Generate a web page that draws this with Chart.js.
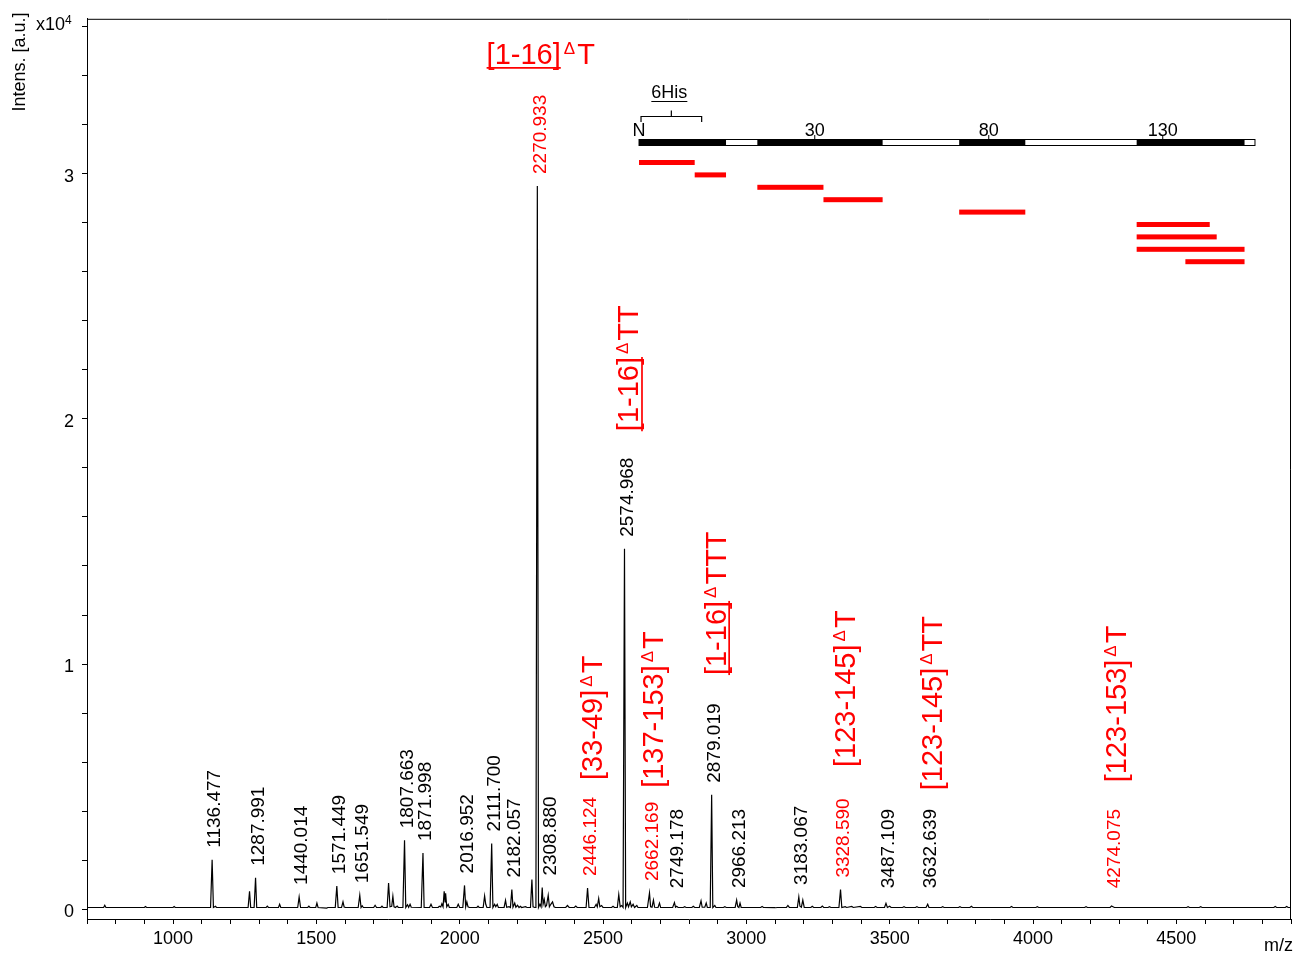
<!DOCTYPE html>
<html>
<head>
<meta charset="utf-8">
<script src="https://cdn.jsdelivr.net/npm/chart.js@4.4.0/dist/chart.umd.min.js"></script>
<style>
  html, body { margin: 0; padding: 0; background: #fff; }
</style>
</head>
<body>
<canvas id="chart" width="1295" height="960"></canvas>
<script>
// MALDI spectrum, [m/z, intensity x10^4]
const spectrum = [
  [700, 0.007], [758, 0.007], [762, 0.016], [766, 0.007],
  [900, 0.007], [904, 0.011], [908, 0.007],
  [1000, 0.007], [1004, 0.011], [1008, 0.007],
  [1131, 0.007], [1136.477, 0.202], [1141, 0.007], [1148, 0.012], [1152, 0.007],
  [1262, 0.007], [1267, 0.073], [1271, 0.007],
  [1283, 0.007], [1287.991, 0.128], [1292, 0.007],
  [1325, 0.007], [1329, 0.012], [1333, 0.007],
  [1368, 0.007], [1372, 0.02], [1376, 0.007],
  [1435, 0.007], [1440.014, 0.05], [1445, 0.007],
  [1470, 0.007], [1474, 0.012], [1478, 0.007],
  [1498, 0.007], [1502, 0.025], [1506, 0.007],
  [1536, 0.004], [1540, 0.007],
  [1566, 0.007], [1571.449, 0.094], [1576, 0.007],
  [1588, 0.007], [1593, 0.03], [1597, 0.009], [1602, 0.007],
  [1646, 0.007], [1651.549, 0.057], [1656, 0.007], [1660, 0.014], [1664, 0.007],
  [1700, 0.007], [1705, 0.016], [1710, 0.007],
  [1725, 0.007], [1729, 0.012], [1733, 0.007],
  [1747, 0.007], [1752, 0.107], [1757, 0.01], [1763, 0.012], [1767, 0.053], [1771, 0.01],
  [1776, 0.007], [1782, 0.013], [1786, 0.007],
  [1802, 0.007], [1807.663, 0.281], [1812, 0.007], [1818, 0.018], [1822, 0.008], [1827, 0.02], [1831, 0.008],
  [1866, 0.007], [1871.998, 0.229], [1876, 0.007],
  [1895, 0.007], [1900, 0.02], [1905, 0.007],
  [1925, 0.007], [1929, 0.012], [1934, 0.009], [1938, 0.022], [1942, 0.01], [1946, 0.073],
  [1949, 0.03], [1951, 0.065], [1955, 0.01], [1960, 0.02], [1964, 0.007],
  [1990, 0.007], [1995, 0.02], [2000, 0.007],
  [2011, 0.007], [2016.952, 0.097], [2021, 0.01], [2025, 0.03], [2029, 0.01], [2034, 0.007],
  [2060, 0.007], [2064, 0.012], [2068, 0.007],
  [2082, 0.007], [2087, 0.054], [2091, 0.02], [2095, 0.007],
  [2106, 0.007], [2111.7, 0.268], [2116, 0.007], [2122, 0.02], [2126, 0.01], [2131, 0.02], [2135, 0.007],
  [2155, 0.007], [2160, 0.036], [2164, 0.008], [2172, 0.01], [2177, 0.007],
  [2182.057, 0.08], [2186, 0.008], [2192, 0.025], [2196, 0.008], [2202, 0.016], [2207, 0.007],
  [2212, 0.012], [2216, 0.007], [2230, 0.01], [2235, 0.007],
  [2247, 0.007], [2252, 0.121], [2256, 0.01], [2262, 0.007],
  [2266, 0.007], [2270.933, 2.95], [2275, 0.007],
  [2280, 0.02], [2284, 0.01], [2288, 0.088], [2291, 0.02], [2295, 0.04], [2299, 0.01], [2303, 0.015],
  [2308.88, 0.057], [2313, 0.01], [2318, 0.02], [2324, 0.03], [2329, 0.01], [2334, 0.007],
  [2370, 0.007], [2376, 0.015], [2382, 0.007],
  [2400, 0.007], [2405, 0.013], [2410, 0.007],
  [2441, 0.007], [2446.124, 0.086], [2451, 0.007],
  [2470, 0.007], [2476, 0.02], [2480, 0.009], [2485, 0.044], [2489, 0.01], [2495, 0.015], [2500, 0.007],
  [2530, 0.007], [2535, 0.012], [2540, 0.007],
  [2550, 0.007], [2555, 0.06], [2560, 0.01], [2565, 0.015], [2570, 0.007],
  [2574.968, 1.47], [2579, 0.007], [2585, 0.025], [2589, 0.01], [2595, 0.03], [2599, 0.01],
  [2605, 0.02], [2610, 0.007], [2618, 0.015], [2622, 0.007],
  [2655, 0.007], [2662.169, 0.066], [2666, 0.01], [2671, 0.008], [2676, 0.037], [2680, 0.008],
  [2692, 0.007], [2697, 0.025], [2701, 0.007],
  [2743, 0.007], [2749.178, 0.027], [2753, 0.008], [2757, 0.012], [2762, 0.007],
  [2780, 0.007], [2785, 0.01], [2790, 0.007],
  [2810, 0.007], [2815, 0.012], [2820, 0.007],
  [2836, 0.007], [2842, 0.034], [2846, 0.008], [2855, 0.008], [2860, 0.025], [2864, 0.007],
  [2874, 0.007], [2879.019, 0.467], [2883, 0.007], [2890, 0.015], [2894, 0.007],
  [2920, 0.007], [2925, 0.01], [2930, 0.007],
  [2961, 0.007], [2966.213, 0.037], [2970, 0.01], [2974, 0.007], [2978, 0.025], [2982, 0.007],
  [3050, 0.007], [3055, 0.011], [3060, 0.007],
  [3100, 0.006], [3110, 0.007],
  [3140, 0.007], [3145, 0.015], [3150, 0.007],
  [3178, 0.007], [3183.067, 0.05], [3187, 0.012], [3192, 0.008], [3197, 0.037], [3202, 0.007],
  [3225, 0.007], [3230, 0.012], [3235, 0.007],
  [3260, 0.007], [3265, 0.013], [3270, 0.007],
  [3285, 0.007], [3290, 0.01], [3295, 0.007],
  [3323, 0.007], [3328.59, 0.08], [3333, 0.007], [3345, 0.01], [3350, 0.007],
  [3368, 0.011], [3373, 0.007], [3398, 0.011], [3403, 0.007],
  [3446, 0.007], [3451, 0.011], [3456, 0.007],
  [3482, 0.007], [3487.109, 0.024], [3492, 0.007], [3500, 0.012], [3505, 0.007],
  [3545, 0.007], [3550, 0.01], [3555, 0.007],
  [3590, 0.007], [3595, 0.01], [3600, 0.007],
  [3627, 0.007], [3632.639, 0.02], [3637, 0.007],
  [3680, 0.007], [3685, 0.01], [3690, 0.007],
  [3740, 0.007], [3745, 0.01], [3750, 0.007],
  [3780, 0.007], [3785, 0.012], [3790, 0.007],
  [3920, 0.007], [3925, 0.011], [3930, 0.007],
  [4010, 0.007], [4015, 0.01], [4020, 0.007],
  [4180, 0.007], [4185, 0.01], [4190, 0.007],
  [4269, 0.007], [4274.075, 0.013], [4279, 0.01], [4284, 0.007],
  [4536, 0.007], [4541, 0.01], [4546, 0.007],
  [4580, 0.007], [4585, 0.01], [4590, 0.007],
  [4840, 0.007], [4845, 0.011], [4850, 0.007],
  [4880, 0.007], [4885, 0.011], [4890, 0.007],
  [4900, 0.007]
];

const peakLabels = [
  '1136.477', '1287.991', '1440.014', '1571.449', '1651.549', '1807.663', '1871.998',
  '2016.952', '2111.700', '2182.057', '2270.933', '2308.880', '2446.124', '2574.968',
  '2662.169', '2749.178', '2879.019', '2966.213', '3183.067', '3328.590', '3487.109',
  '3632.639', '4274.075'
];
const redLabels = ['2270.933', '2446.124', '2662.169', '3328.590', '4274.075'];

// fragment assignments
const assignPeaks = ['2270.933', '2446.124', '2574.968', '2662.169', '2879.019', '3328.590', '3632.639', '4274.075'];
const assignRanges = ['[1-16]', '[33-49]', '[1-16]', '[137-153]', '[1-16]', '[123-145]', '[123-145]', '[123-153]'];
const assignMods = ['T', 'T', 'TT', 'T', 'TTT', 'T', 'TT', 'T'];

// sequence coverage map (residue numbers, first..last)
const proteinFirst = -20;
const proteinLast = 156;
const coveredFragments = [[-20, -5], [-4, 4], [14, 32], [33, 49], [72, 90], [123, 143], [123, 145], [123, 153], [137, 153]];
const residueTicks = [30, 80, 130];
const hisTag = [-20, -3];

const FONT = "'Liberation Sans', Arial, Helvetica, sans-serif";
const RED = '#ff0000';

// where the assignment texts start (m/z for x, intensity for y)
const assignLayout = {
  '2270.933': { horizontal: true, mz: 2094, y: 3.446 },
  '2446.124': { y: 0.527 },
  '2574.968': { y: 1.95 },
  '2662.169': { y: 0.495 },
  '2879.019': { y: 0.955 },
  '3328.590': { y: 0.58 },
  '3632.639': { y: 0.485 },
  '4274.075': { y: 0.518 }
};
const mapLayout = { x0: 712.1, k: 3.48, barTop: 139, barH: 7, rowTop: 160, rowStep: 12.4, rowH: 5 };

function localMax(mz) {
  let h = 0;
  spectrum.forEach(([m, v]) => { if (Math.abs(m - mz) <= 22 && v > h) h = v; });
  return h;
}

function drawAssignment(ctx, px, py, range, mods, rotated) {
  ctx.save();
  ctx.translate(px, py);
  if (rotated) ctx.rotate(-Math.PI / 2);
  ctx.fillStyle = RED;
  ctx.strokeStyle = RED;
  ctx.textAlign = 'left';
  ctx.textBaseline = 'alphabetic';
  ctx.font = '29px ' + FONT;
  ctx.fillText(range, 0, 0);
  const w1 = ctx.measureText(range).width;
  if (range === '[1-16]') {
    ctx.lineWidth = 1.7;
    ctx.beginPath();
    ctx.moveTo(0, 3.5);
    ctx.lineTo(w1, 3.5);
    ctx.stroke();
  }
  ctx.font = '17px ' + FONT;
  ctx.fillText('\u0394', w1 + 3, -10);
  const w2 = ctx.measureText('\u0394').width;
  ctx.font = '29px ' + FONT;
  ctx.fillText(mods, w1 + w2 + 5, 0);
  ctx.restore();
}

const annotations = {
  id: 'annotations',
  afterDraw(chart) {
    const { ctx, chartArea: area, scales: { x, y } } = chart;
    ctx.save();

    // top and right frame
    ctx.strokeStyle = '#000';
    ctx.lineWidth = 1;
    ctx.beginPath();
    ctx.moveTo(area.left, area.top + 0.5);
    ctx.lineTo(area.right - 0.5, area.top + 0.5);
    ctx.lineTo(area.right - 0.5, area.bottom);
    ctx.stroke();

    // axis titles
    ctx.fillStyle = '#000';
    ctx.save();
    ctx.translate(20, 62);
    ctx.rotate(-Math.PI / 2);
    ctx.font = '18px ' + FONT;
    ctx.textAlign = 'center';
    ctx.textBaseline = 'middle';
    ctx.fillText('Intens. [a.u.]', 0, 0);
    ctx.restore();
    ctx.textAlign = 'left';
    ctx.textBaseline = 'alphabetic';
    ctx.font = '18px ' + FONT;
    ctx.fillText('x10', 36, 30);
    ctx.font = '12px ' + FONT;
    ctx.fillText('4', 65, 24);
    ctx.font = '18px ' + FONT;
    ctx.textAlign = 'right';
    ctx.fillText('m/z', 1293, 951);

    // peak labels
    const zeroPx = y.getPixelForValue(0);
    peakLabels.forEach(label => {
      const mz = parseFloat(label);
      const px = x.getPixelForValue(mz);
      const py = Math.min(y.getPixelForValue(localMax(mz)) - 12, zeroPx - 21);
      ctx.save();
      ctx.translate(px + 3, py);
      ctx.rotate(-Math.PI / 2);
      ctx.font = '19px ' + FONT;
      ctx.textAlign = 'left';
      ctx.textBaseline = 'middle';
      ctx.fillStyle = redLabels.includes(label) ? RED : '#000';
      ctx.fillText(label, 0, 0);
      ctx.restore();
    });

    // fragment assignments
    assignPeaks.forEach((peak, i) => {
      const lay = assignLayout[peak];
      if (lay.horizontal) {
        drawAssignment(ctx, x.getPixelForValue(lay.mz), y.getPixelForValue(lay.y), assignRanges[i], assignMods[i], false);
      } else {
        drawAssignment(ctx, x.getPixelForValue(parseFloat(peak)) + 14, y.getPixelForValue(lay.y), assignRanges[i], assignMods[i], true);
      }
    });

    // sequence coverage map
    const m = mapLayout;
    const pos = n => m.x0 + m.k * n;
    const barL = pos(proteinFirst - 1);
    const barR = pos(proteinLast);
    ctx.fillStyle = '#fff';
    ctx.fillRect(barL, m.barTop, barR - barL, m.barH);
    const covered = r => coveredFragments.some(f => r >= f[0] && r <= f[1]);
    ctx.fillStyle = '#000';
    let runStart = null;
    for (let r = proteinFirst; r <= proteinLast + 1; r++) {
      const c = r <= proteinLast && covered(r);
      if (c && runStart === null) runStart = r;
      if (!c && runStart !== null) {
        ctx.fillRect(pos(runStart - 1), m.barTop, pos(r - 1) - pos(runStart - 1), m.barH);
        runStart = null;
      }
    }
    ctx.strokeStyle = '#000';
    ctx.lineWidth = 1;
    ctx.strokeRect(barL, m.barTop + 0.5, barR - barL, m.barH - 1);

    ctx.font = '18px ' + FONT;
    ctx.textAlign = 'center';
    ctx.textBaseline = 'alphabetic';
    ctx.fillText('N', barL, m.barTop - 3);
    residueTicks.forEach(t => {
      const cx = pos(t - 0.5);
      ctx.beginPath();
      ctx.moveTo(cx, m.barTop - 4);
      ctx.lineTo(cx, m.barTop);
      ctx.stroke();
      ctx.fillText(String(t), cx, m.barTop - 3);
    });

    ctx.fillStyle = RED;
    coveredFragments.forEach((f, i) => {
      const l = pos(f[0] - 1);
      ctx.fillRect(l, m.rowTop + i * m.rowStep, pos(f[1]) - l, m.rowH);
    });

    // 6His bracket
    const hl = pos(hisTag[0] - 1) + 2;
    const hr = pos(hisTag[1]);
    const hc = (hl + hr) / 2;
    ctx.strokeStyle = '#000';
    ctx.lineWidth = 1.2;
    ctx.beginPath();
    ctx.moveTo(hl, 122);
    ctx.lineTo(hl, 116.5);
    ctx.lineTo(hr, 116.5);
    ctx.lineTo(hr, 122);
    ctx.moveTo(hc, 116.5);
    ctx.lineTo(hc, 110.5);
    ctx.stroke();
    ctx.fillStyle = '#000';
    ctx.font = '18px ' + FONT;
    ctx.textAlign = 'center';
    ctx.fillText('6His', hc - 2, 98);
    const hw = ctx.measureText('6His').width;
    ctx.lineWidth = 1;
    ctx.beginPath();
    ctx.moveTo(hc - 2 - hw / 2, 101.5);
    ctx.lineTo(hc - 2 + hw / 2, 101.5);
    ctx.stroke();

    ctx.restore();
  }
};

const tickFont = { size: 18, family: FONT };

new Chart(document.getElementById('chart'), {
  type: 'line',
  data: {
    datasets: [{
      data: spectrum.map(([mz, v]) => ({ x: mz, y: v })),
      borderColor: '#000',
      borderWidth: 1.2,
      pointRadius: 0,
      tension: 0,
      fill: false
    }]
  },
  options: {
    responsive: false,
    animation: false,
    devicePixelRatio: 1,
    events: [],
    layout: { padding: { top: 18, right: 1, left: 0, bottom: 0 } },
    plugins: { legend: { display: false }, tooltip: { enabled: false } },
    scales: {
      x: {
        type: 'linear',
        min: 700,
        max: 4900,
        border: { display: true, color: '#000', width: 1 },
        grid: { drawOnChartArea: false, drawTicks: true, tickLength: 5, color: '#000', tickColor: '#000' },
        ticks: {
          stepSize: 100,
          autoSkip: false,
          maxRotation: 0,
          includeBounds: false,
          padding: 4,
          color: '#000',
          font: tickFont,
          callback: v => (v % 500 === 0 ? String(v) : '')
        },
        afterFit: s => { s.height = 41; }
      },
      y: {
        min: -0.04,
        max: 3.632,
        border: { display: true, color: '#000', width: 1 },
        grid: { drawOnChartArea: false, drawTicks: true, tickLength: 5, color: '#000', tickColor: '#000' },
        ticks: {
          stepSize: 0.2,
          autoSkip: false,
          includeBounds: false,
          padding: 8,
          labelOffset: 3,
          color: '#000',
          font: tickFont,
          callback: v => (Math.abs(v - Math.round(v)) < 1e-6 ? String(Math.round(v)) : '')
        },
        afterFit: s => { s.width = 87; }
      }
    }
  },
  plugins: [annotations]
});
</script>
</body>
</html>
